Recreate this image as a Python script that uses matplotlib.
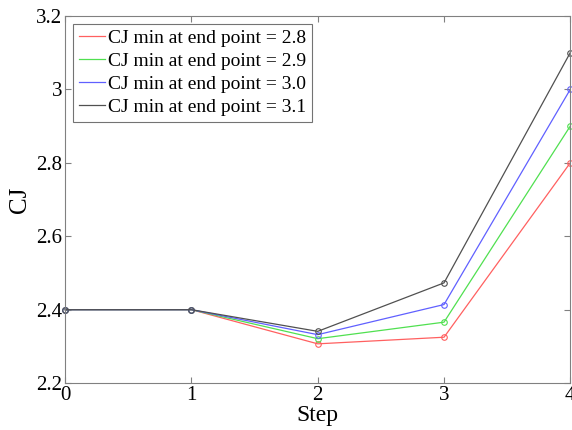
import matplotlib
matplotlib.use("Agg")
import matplotlib.pyplot as plt

plt.rcParams["font.family"] = ["Liberation Serif", "DejaVu Serif"]

steps = [0, 1, 2, 3, 4]
cj_28 = [2.4, 2.4, 2.307, 2.325, 2.8]
cj_29 = [2.4, 2.4, 2.321, 2.366, 2.9]
cj_30 = [2.4, 2.4, 2.332, 2.414, 3.0]
cj_31 = [2.4, 2.4, 2.341, 2.473, 3.1]
labels = ["CJ min at end point = 2.8", "CJ min at end point = 2.9",
          "CJ min at end point = 3.0", "CJ min at end point = 3.1"]
colors = ["#ff6060", "#50e050", "#6060ff", "#505050"]

fig = plt.figure(figsize=(5.72, 4.30), dpi=100)
ax = fig.add_axes([0.114, 0.109, 0.883, 0.854])

for ys, lab, c in zip([cj_28, cj_29, cj_30, cj_31], labels, colors):
    ax.plot(steps, ys, color=c, linewidth=0.9, marker="o", markersize=4,
            markerfacecolor="none", markeredgewidth=0.8, label=lab, clip_on=False)

ax.set_xlim(0, 4)
ax.set_ylim(2.2, 3.2)
ax.set_xticks([0, 1, 2, 3, 4])
ax.set_yticks([2.2, 2.4, 2.6, 2.8, 3.0, 3.2])
ax.set_yticklabels(["2.2", "2.4", "2.6", "2.8", "3", "3.2"])
ax.tick_params(direction="in", top=True, right=True, labelsize=15,
               color="#808080", length=4, pad=2)
for s in ax.spines.values():
    s.set_color("#808080")
ax.set_xlabel("Step", fontsize=17, labelpad=0)
ax.set_ylabel("CJ", fontsize=18, labelpad=4)

leg = ax.legend(loc="upper left", fontsize=14, handlelength=1.35, handletextpad=0.15,
                borderaxespad=0.4, labelspacing=0.28, fancybox=False, borderpad=0.3)
leg.get_frame().set_edgecolor("#505050")
leg.get_frame().set_linewidth(0.8)
for h in leg.legend_handles:
    h.set_marker("")

fig.savefig("out.png", dpi=100)
